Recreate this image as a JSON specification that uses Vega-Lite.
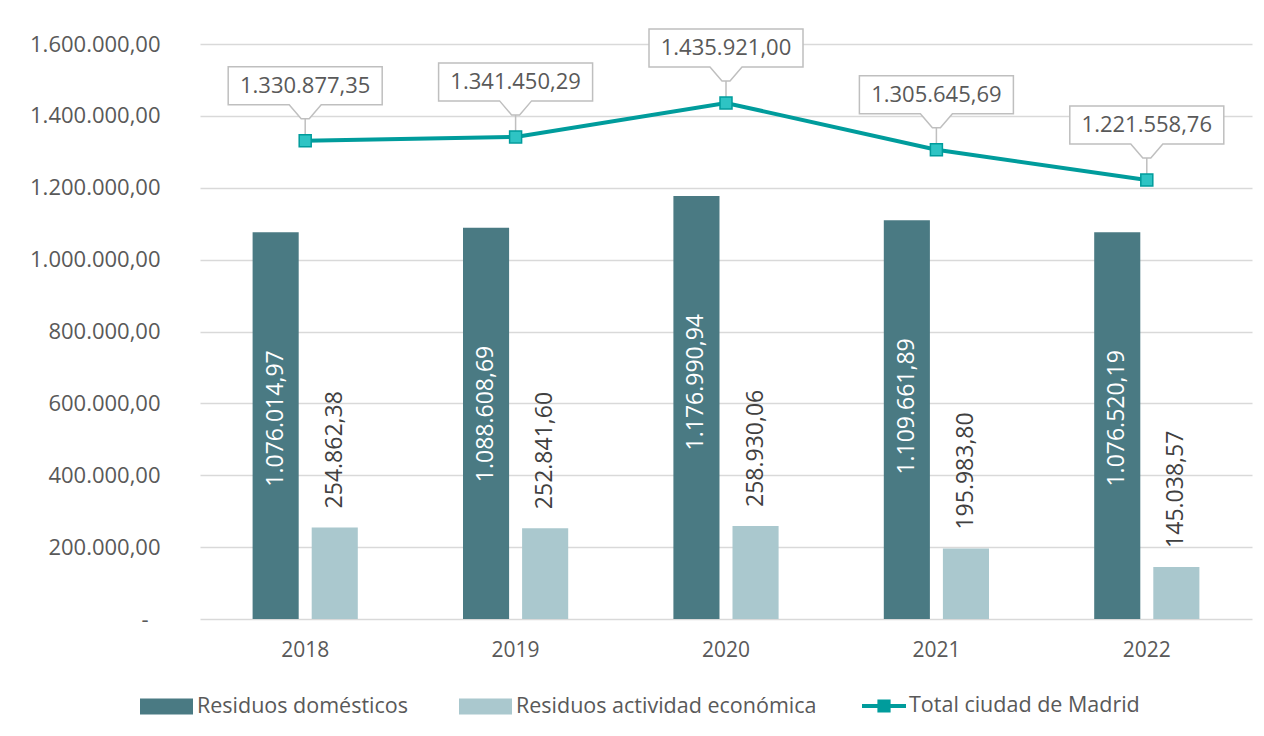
{
  "$schema": "https://vega.github.io/schema/vega-lite/v6.json",
  "width": 1052,
  "height": 575,
  "autosize": {"type": "none"},
  "padding": {"left": 200, "top": 44, "right": 12, "bottom": 117},
  "background": "white",
  "config": {
    "locale": {"number": {"decimal": ",", "thousands": ".", "grouping": [3], "currency": ["", " €"]}},
    "view": {"stroke": null},
    "font": "Open Sans",
    "axis": {"labelFont": "Open Sans", "labelColor": "#595959"},
    "legend": {"labelFont": "Open Sans", "labelLimit": 500}
  },
  "datasets": {
    "barras": [
      {"anio": "2018", "serie": "Residuos domésticos", "valor": 1076014.97},
      {"anio": "2018", "serie": "Residuos actividad económica", "valor": 254862.38},
      {"anio": "2019", "serie": "Residuos domésticos", "valor": 1088608.69},
      {"anio": "2019", "serie": "Residuos actividad económica", "valor": 252841.60},
      {"anio": "2020", "serie": "Residuos domésticos", "valor": 1176990.94},
      {"anio": "2020", "serie": "Residuos actividad económica", "valor": 258930.06},
      {"anio": "2021", "serie": "Residuos domésticos", "valor": 1109661.89},
      {"anio": "2021", "serie": "Residuos actividad económica", "valor": 195983.80},
      {"anio": "2022", "serie": "Residuos domésticos", "valor": 1076520.19},
      {"anio": "2022", "serie": "Residuos actividad económica", "valor": 145038.57}
    ],
    "total": [
      {"anio": "2018", "valor": 1330877.35},
      {"anio": "2019", "valor": 1341450.29},
      {"anio": "2020", "valor": 1435921.00},
      {"anio": "2021", "valor": 1305645.69},
      {"anio": "2022", "valor": 1221558.76}
    ]
  },
  "encoding": {
    "x": {
      "field": "anio",
      "type": "nominal",
      "scale": {"paddingInner": 0.5, "paddingOuter": 0.25},
      "axis": {"title": null, "labelAngle": 0, "domain": false, "ticks": false, "tickSize": 0, "labelPadding": 20, "labelFontSize": 21, "labelColor": "#595959", "grid": false}
    },
    "y": {
      "field": "valor",
      "type": "quantitative",
      "scale": {"domain": [0, 1600000], "nice": false, "zero": true},
      "axis": {
        "title": null,
        "values": [0, 200000, 400000, 600000, 800000, 1000000, 1200000, 1400000, 1600000],
        "format": ",.2f",
        "labelExpr": "datum.value == 0 ? '-' : datum.label",
        "domain": false,
        "ticks": false,
        "tickSize": 0,
        "labelPadding": {"condition": {"test": "datum.value == 0", "value": 52}, "value": 40},
        "labelFontSize": 22,
        "labelColor": "#595959",
        "grid": true,
        "gridColor": "#D9D9D9",
        "gridWidth": 1.5
      }
    }
  },
  "layer": [
    {
      "data": {"name": "barras"},
      "mark": {"type": "bar"},
      "encoding": {
        "xOffset": {"field": "serie", "type": "nominal", "scale": {"domain": ["Residuos domésticos", "Residuos actividad económica"], "paddingInner": 0.22, "paddingOuter": 0}},
        "fill": {
          "field": "serie",
          "type": "nominal",
          "scale": {"domain": ["Residuos domésticos", "Residuos actividad económica"], "range": ["#4A7A83", "#AAC8CE"]},
          "legend": {
            "title": null,
            "orient": "none",
            "legendX": -60,
            "legendY": 636,
            "direction": "horizontal",
            "symbolType": "M-1,-0.3L1,-0.3L1,0.3L-1,0.3Z",
            "symbolSize": 2809,
            "symbolStrokeWidth": 0,
            "labelFontSize": 21.5,
            "labelColor": "#595959",
            "labelLimit": 500,
            "columnPadding": 50,
            "labelOffset": 4
          }
        }
      }
    },
    {
      "data": {"name": "barras"},
      "transform": [{"filter": "datum.serie == 'Residuos domésticos'"}],
      "mark": {"type": "text", "angle": 270, "align": "right", "baseline": "middle", "dx": -118, "fontSize": 23, "color": "#FFFFFF"},
      "encoding": {
        "xOffset": {"field": "serie", "type": "nominal"},
        "text": {"field": "valor", "type": "quantitative", "format": ",.2f"}
      }
    },
    {
      "data": {"name": "barras"},
      "transform": [{"filter": "datum.serie == 'Residuos actividad económica'"}],
      "mark": {"type": "text", "angle": 270, "align": "left", "baseline": "middle", "dx": 19, "fontSize": 23, "color": "#404040"},
      "encoding": {
        "xOffset": {"field": "serie", "type": "nominal"},
        "text": {"field": "valor", "type": "quantitative", "format": ",.2f"}
      }
    },
    {
      "data": {"name": "total"},
      "mark": {"type": "line", "strokeWidth": 4},
      "encoding": {
        "stroke": {
          "datum": "Total ciudad de Madrid",
          "type": "nominal",
          "scale": {"domain": ["Total ciudad de Madrid"], "range": ["#009C9C"]},
          "legend": {
            "title": null,
            "orient": "none",
            "legendX": 662,
            "legendY": 640,
            "symbolType": "M-1,-0.09L1,-0.09L1,0.09L-1,0.09Z M-0.3,-0.3L0.3,-0.3L0.3,0.3L-0.3,0.3Z",
            "symbolSize": 1936,
            "symbolStrokeWidth": 0,
            "symbolFillColor": "#009C9C",
            "labelFontSize": 21.5,
            "labelColor": "#595959",
            "labelLimit": 500,
            "labelOffset": 3,
            "encode": {"symbols": {"update": {"fill": {"value": "#009C9C"}, "strokeWidth": {"value": 0}, "opacity": {"value": 1}}}}
          }
        }
      }
    },
    {
      "data": {"name": "total"},
      "mark": {
        "type": "point",
        "shape": "M-1,-0.961L1,-0.961L1,-0.468L0.208,-0.468L0.052,-0.286L-0.052,-0.286L-0.208,-0.468L-1,-0.468Z M0,-0.286L0,-0.04",
        "size": 23716,
        "filled": true,
        "fill": "#FFFFFF",
        "stroke": "#BFBFBF",
        "strokeWidth": 1.5,
        "opacity": 1
      },
      "encoding": {}
    },
    {
      "data": {"name": "total"},
      "mark": {"type": "point", "shape": "square", "size": 144, "filled": true, "fill": "#2EC4C4", "stroke": "#009C9C", "strokeWidth": 1.5, "opacity": 1},
      "encoding": {}
    },
    {
      "data": {"name": "total"},
      "mark": {"type": "text", "dy": -55, "baseline": "middle", "align": "center", "fontSize": 22, "color": "#595959"},
      "encoding": {
        "text": {"field": "valor", "type": "quantitative", "format": ",.2f"}
      }
    }
  ]
}
